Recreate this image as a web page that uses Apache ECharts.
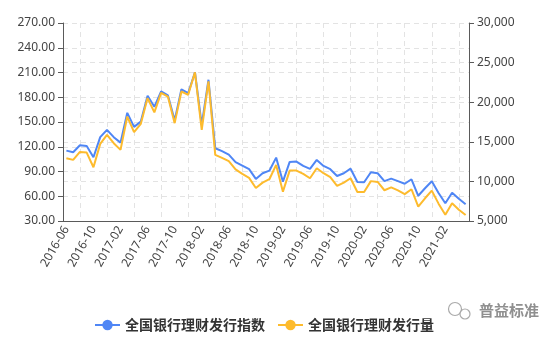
<!DOCTYPE html>
<html>
<head>
<meta charset="utf-8">
<script src="https://cdn.jsdelivr.net/npm/echarts@6/dist/echarts.min.js"></script>
<style>
html,body{margin:0;padding:0;background:#fff;}
#chart{width:542px;height:341px;}
</style>
</head>
<body>
<div id="chart"></div>
<script>
const categories = [
  '2016-06','2016-07','2016-08','2016-09','2016-10','2016-11','2016-12',
  '2017-01','2017-02','2017-03','2017-04','2017-05','2017-06','2017-07','2017-08','2017-09','2017-10','2017-11','2017-12',
  '2018-01','2018-02','2018-03','2018-04','2018-05','2018-06','2018-07','2018-08','2018-09','2018-10','2018-11','2018-12',
  '2019-01','2019-02','2019-03','2019-04','2019-05','2019-06','2019-07','2019-08','2019-09','2019-10','2019-11','2019-12',
  '2020-01','2020-02','2020-03','2020-04','2020-05','2020-06','2020-07','2020-08','2020-09','2020-10','2020-11','2020-12',
  '2021-01','2021-02','2021-03','2021-04','2021-05'
];
const indexValues = [
  115.3,113.4,121.9,121.0,107.3,131.6,140.5,131.6,125.0,161.1,144.1,150.5,181.7,168.4,187.2,182.3,152.0,189.6,185.0,
  210.3,146.5,201.2,118.2,114.6,110.5,101.3,97.1,92.8,81.0,87.9,91.0,
  106.8,77.7,101.6,102.0,96.8,93.1,104.0,96.8,92.8,84.6,87.9,93.4,
  77.3,77.0,89.1,87.9,78.3,81.3,78.3,75.1,80.6,60.6,69.7,78.2,
  64.0,51.5,64.3,56.9,50.4
];
const volumeValues = [
  12929,12714,13726,13637,11791,14737,15876,14826,13979,18190,16217,17266,20516,18721,21186,20719,17355,21351,20934,
  23779,16508,22641,13347,12967,12550,11513,10944,10438,9174,9844,10274,
  12082,8706,11361,11361,10944,10400,11665,11032,10527,9427,9844,10400,
  8668,8668,10034,9932,8883,9237,8858,8390,9009,6809,7871,8832,
  7189,5797,7239,6430,5760
];
const seriesNames = ['全国银行理财发行指数','全国银行理财发行量'];
const watermarkText = '普益标准';

// half-month grid positions for the vertical dashed lines
const gridSteps = [];
for (let k = 0; k <= categories.length * 2; k++) gridSteps.push(String(k));

const chart = echarts.init(document.getElementById('chart'), null, {renderer: 'canvas'});
const axisColor = '#5a5a5a';
const labelColor = '#444';
const splitColor = '#e3e3e3';
const font = "'Noto Sans', 'Noto Sans CJK SC', sans-serif";

chart.setOption({
  animation: false,
  grid: {left: 63, right: 73, top: 23, bottom: 120, containLabel: false},
  legend: {
    data: seriesNames,
    left: 89,
    top: 313,
    itemWidth: 25,
    itemHeight: 13,
    itemGap: 12,
    textStyle: {fontSize: 14, fontWeight: 'bold', color: '#333', fontFamily: "'Noto Sans CJK SC', serif"}
  },
  xAxis: [
    {
      type: 'category',
      data: categories,
      boundaryGap: true,
      axisLine: {lineStyle: {color: axisColor}},
      axisTick: {alignWithLabel: true, interval: 3, lineStyle: {color: axisColor}},
      axisLabel: {interval: 3, rotate: 60, color: labelColor, fontSize: 12, fontFamily: font, margin: 6},
      splitLine: {show: false}
    },
    {
      type: 'category',
      data: gridSteps,
      boundaryGap: false,
      position: 'bottom',
      axisLine: {show: false},
      axisTick: {show: false},
      axisLabel: {show: false},
      splitLine: {
        show: true,
        interval: function (idx) { return idx % 8 === 5; },
        lineStyle: {color: splitColor, type: [5, 4]}
      }
    }
  ],
  yAxis: [
    {
      type: 'value',
      min: 30, max: 270, interval: 30,
      axisLine: {show: true, lineStyle: {color: axisColor}},
      axisTick: {show: true, lineStyle: {color: axisColor}},
      axisLabel: {color: labelColor, fontSize: 12, fontFamily: font, formatter: v => v.toFixed(2)},
      splitLine: {show: true, lineStyle: {color: splitColor, type: [5, 4]}}
    },
    {
      type: 'value',
      min: 5000, max: 30000, interval: 5000,
      position: 'right',
      axisLine: {show: true, lineStyle: {color: axisColor}},
      axisTick: {show: true, lineStyle: {color: axisColor}},
      axisLabel: {color: labelColor, fontSize: 12, fontFamily: font, formatter: v => v.toLocaleString('en-US')},
      splitLine: {show: true, lineStyle: {color: splitColor, type: [5, 4]}}
    }
  ],
  series: [
    {
      name: seriesNames[0],
      type: 'line',
      xAxisIndex: 0,
      yAxisIndex: 0,
      data: indexValues,
      symbol: 'circle',
      showSymbol: false,
      lineStyle: {width: 2, color: '#4F86F5'},
      itemStyle: {color: '#4F86F5'}
    },
    {
      name: seriesNames[1],
      type: 'line',
      xAxisIndex: 0,
      yAxisIndex: 1,
      data: volumeValues,
      symbol: 'circle',
      showSymbol: false,
      lineStyle: {width: 2, color: '#FDBB2D'},
      itemStyle: {color: '#FDBB2D'}
    }
  ],
  graphic: [
    {type: 'circle', shape: {cx: 455, cy: 309, r: 6.5}, style: {fill: 'none', stroke: '#aaa', lineWidth: 1.2}},
    {type: 'circle', shape: {cx: 465, cy: 314, r: 5}, style: {fill: '#fff', stroke: '#aaa', lineWidth: 1.2}},
    {type: 'text', left: 479, top: 303, style: {text: watermarkText, fill: '#8f8f8f', fontSize: 15, fontWeight: 'bold', fontFamily: "'Noto Sans CJK SC', sans-serif"}}
  ]
});
</script>
</body>
</html>
